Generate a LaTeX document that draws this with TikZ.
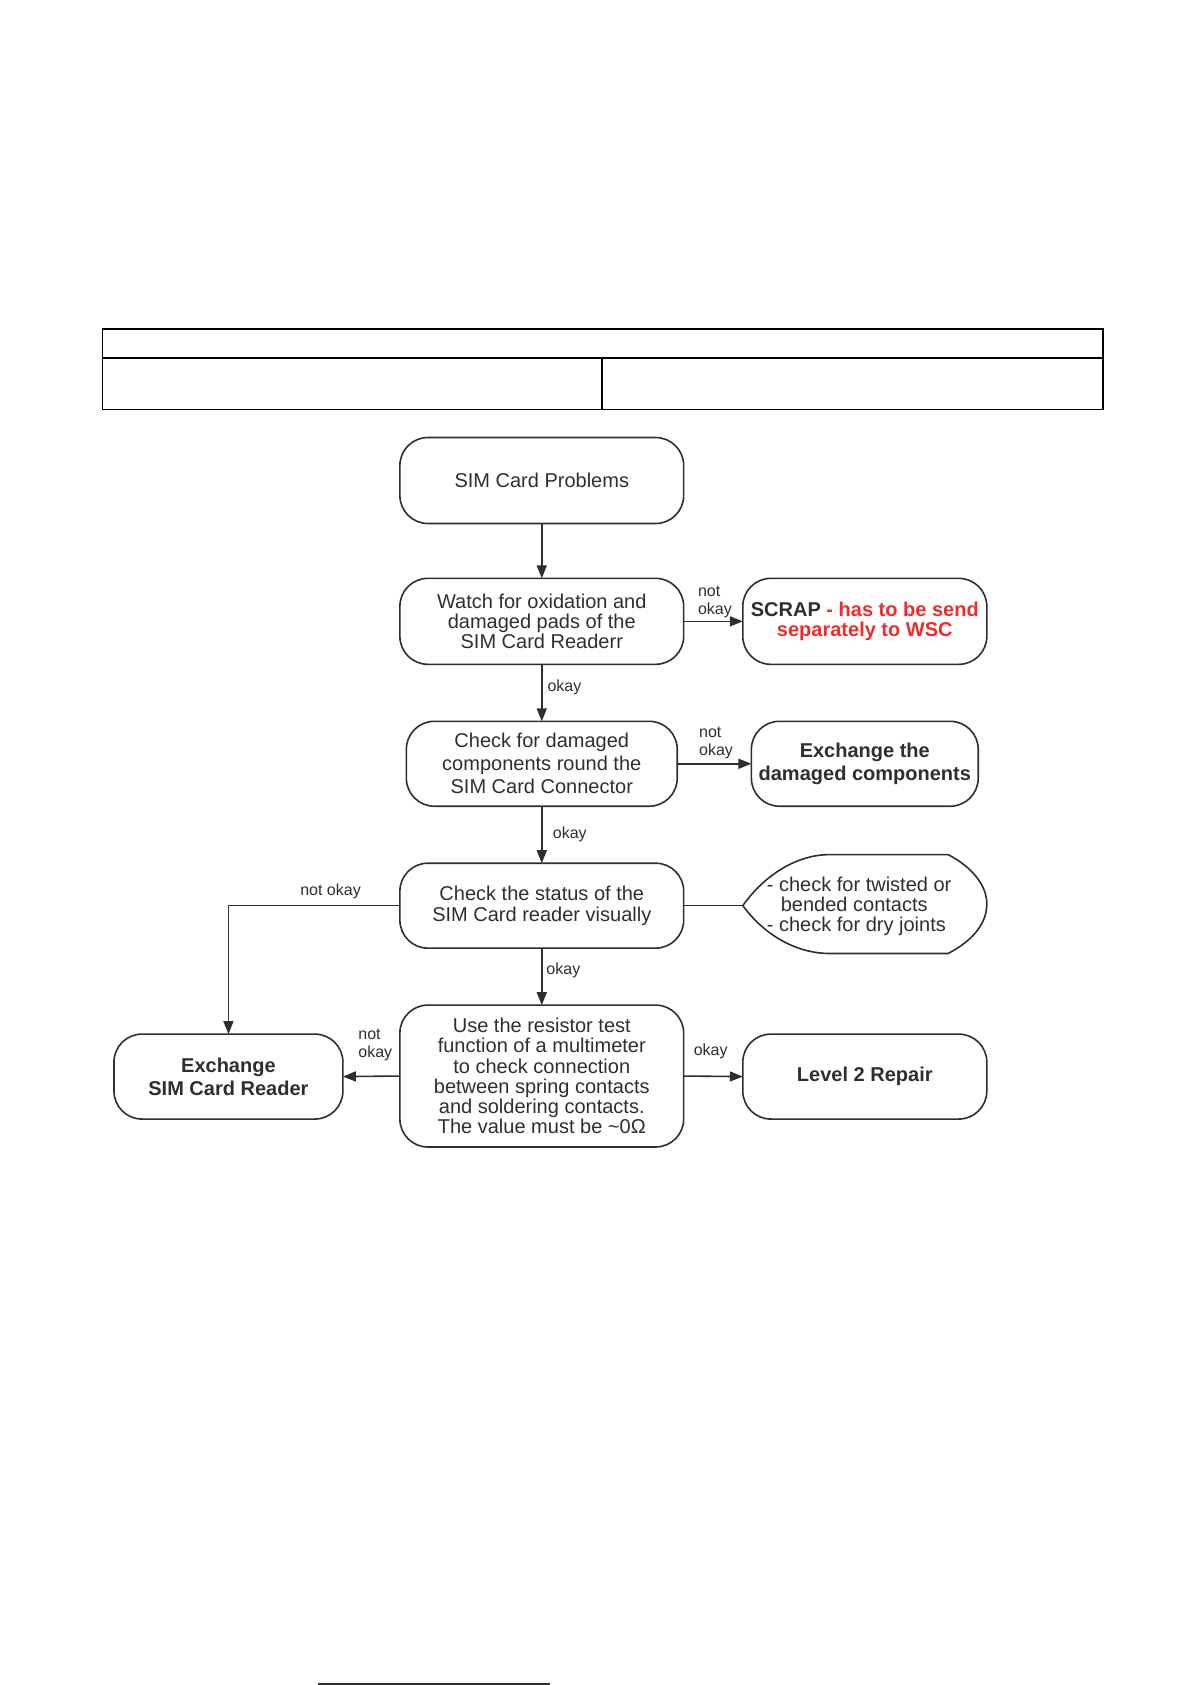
\documentclass[tikz,border=0pt]{standalone}
\usepackage{fontspec}
\setmainfont{Liberation Sans}
\usetikzlibrary{arrows.meta}
\definecolor{ink}{HTML}{2E2E2E}
\definecolor{redtxt}{HTML}{F22A2A}
\begin{document}
\begin{tikzpicture}[x=0.5373pt,y=-0.5373pt,
  box/.style={draw=ink, line width=0.8pt, rounded corners=14pt, inner sep=0pt, outer sep=0pt, align=center, text=ink, font=\fontsize{10}{10.1}\selectfont},
  lbl/.style={text=ink, font=\fontsize{8}{9.1}\selectfont, inner sep=0pt, align=left, anchor=west},
  conn/.style={draw=ink, line width=0.8pt},
  arr/.style={conn, -{Triangle[length=6.5pt,width=5pt]}},
  tbl/.style={draw=black, line width=0.6pt},
]
\useasboundingbox (0,0) rectangle (1108,1567.5);
% header table
\draw[tbl] (95,306) rectangle (1026,381);
\draw[tbl] (95,333) -- (1026,333);
\draw[tbl] (560,333) -- (560,381);

% boxes
\node[box, minimum width=141.85pt, minimum height=42.98pt] (prob) at (504,447) {SIM Card Problems};
\node[box, minimum width=141.85pt, minimum height=42.98pt] (watch) at (504,578) {Watch for oxidation and\\damaged pads of the\\SIM Card Readerr};
\node[box, minimum width=121.97pt, minimum height=42.98pt, font=\fontsize{10}{10.2}\selectfont\bfseries] (scrap) at (804.5,578) {SCRAP \textcolor{redtxt}{- has to be send}\\\textcolor{redtxt}{separately to WSC}};
\node[box, minimum width=135.4pt, minimum height=42.45pt, font=\fontsize{10}{11.5}\selectfont] (comp) at (504,710.5) {Check for damaged\\components round the\\SIM Card Connector};
\node[box, minimum width=113.37pt, minimum height=42.45pt, font=\fontsize{10}{11.8}\selectfont\bfseries] (exch) at (804.5,710.5) {Exchange the\\damaged components};
\node[box, minimum width=141.85pt, minimum height=42.45pt, font=\fontsize{10}{10.2}\selectfont] (status) at (504,842.5) {Check the status of the\\SIM Card reader visually};
\node[box, minimum width=141.85pt, minimum height=70.92pt] (resist) at (504,1001) {Use the resistor test\\function of a multimeter\\to check connection\\between spring contacts\\and soldering contacts.\\The value must be \textasciitilde0Ω};
\node[box, minimum width=114.44pt, minimum height=42.45pt, font=\fontsize{10}{11.3}\selectfont\bfseries] (exsim) at (212.5,1001.5) {Exchange\\SIM Card Reader};
\node[box, minimum width=121.97pt, minimum height=42.45pt, font=\fontsize{10}{10.1}\selectfont\bfseries] (level) at (804.5,1001.5) {Level 2 Repair};

% callout
\coordinate (ctip) at (691,842.5);
\draw[conn] (ctip) .. controls (712,813) and (742,795) .. (772,795) -- (882,795)
  .. controls (905,807) and (918,824) .. (918,841)
  .. controls (918,859) and (905,875) .. (882,887) -- (772,887)
  .. controls (742,887) and (712,871) .. (ctip) -- cycle;
\node[lbl, font=\fontsize{10}{10}\selectfont] (calltext) at (713,843) {- check for twisted or\\\hspace*{7pt}bended contacts\\- check for dry joints};

% connectors
\draw[arr] (prob.south) -- (watch.north);
\draw[arr] (watch.east) -- (scrap.west);
\draw[arr] (watch.south) -- (comp.north);
\draw[arr] (comp.east) -- (exch.west);
\draw[arr] (comp.south) -- (status.north);
\draw[arr] (status.west) -| (exsim.north);
\draw[conn] (status.east) -- (ctip);
\draw[arr] (status.south) -- (resist.north);
\draw[arr] (resist.west) -- (exsim.east);
\draw[arr] (resist.east) -- (level.west);

% labels
\node[lbl] (l1) at (649,560) {not\\okay};
\node[lbl] (l2) at (509,639) {okay};
\node[lbl] (l3) at (650,691) {not\\okay};
\node[lbl] (l4) at (514,776) {okay};
\node[lbl] (l5) at (279,829) {not okay};
\node[lbl] (l6) at (508,903) {okay};
\node[lbl] (l7) at (333,972) {not\\okay};
\node[lbl] (l8) at (645,978) {okay};

% bottom edge mark
\draw[draw=ink, line width=1pt] (296,1566.5) -- (512,1566.5);
\end{tikzpicture}
\end{document}
